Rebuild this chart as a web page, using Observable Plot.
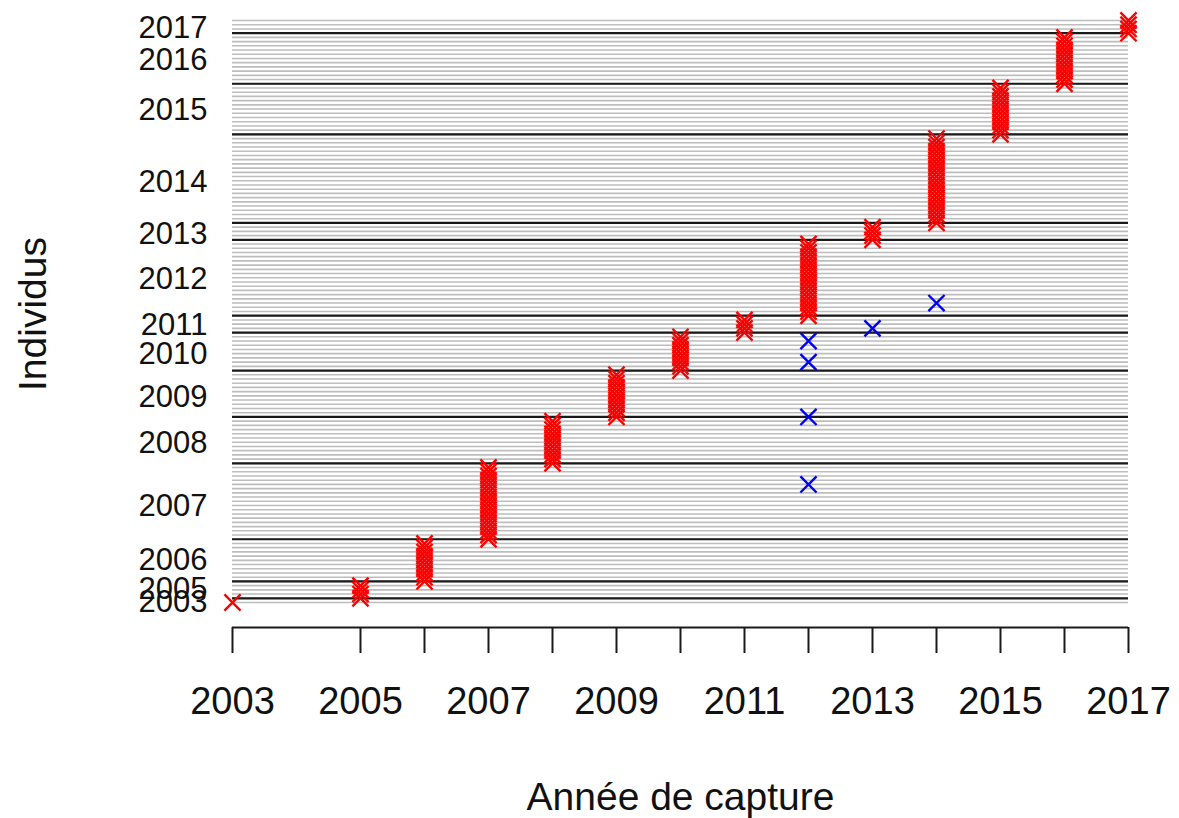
<!DOCTYPE html>
<html>
<head>
<meta charset="utf-8">
<script src="https://cdn.jsdelivr.net/npm/d3@7"></script>
<script src="https://cdn.jsdelivr.net/npm/@observablehq/plot@0.6"></script>
<style>
  html, body { margin: 0; padding: 0; background: #ffffff; }
  #chart svg { display: block; }
</style>
</head>
<body>
<div id="chart"></div>
<script>
// ---- data ----
const cohortYears  = [2003, 2005, 2006, 2007, 2008, 2009, 2010, 2011, 2012, 2013, 2014, 2015, 2016, 2017];
const cohortCounts = [1, 4, 10, 18, 11, 11, 9, 4, 18, 4, 21, 12, 12, 4];
const recapYears = [2012, 2012, 2012, 2012, 2013, 2014];
const recapRows  = [29, 45, 58, 63, 66, 72];
const xTickYears  = [2003, 2005, 2006, 2007, 2008, 2009, 2010, 2011, 2012, 2013, 2014, 2015, 2016, 2017];
const xLabelYears = [2003, 2005, 2007, 2009, 2011, 2013, 2015, 2017];
const yLabelYears = [2003, 2005, 2006, 2007, 2008, 2009, 2010, 2011, 2012, 2013, 2014, 2015, 2016, 2017];
const yLabelRows  = [1, 4.3, 11, 23.8, 38.9, 49.6, 59.8, 66.7, 77.8, 88.3, 100.8, 117.7, 129.5, 137.1];

// ---- tables built from the arrays ----
const captures = [];
const firstRows = [];
let r = 1;
cohortYears.forEach((yr, i) => {
  firstRows.push(r);
  for (let k = 0; k < cohortCounts[i]; k++) captures.push({year: yr, row: r + k});
  r += cohortCounts[i];
});
const nRows = r - 1;
const allRows = d3.range(1, nRows + 1);
const boundaryRows = firstRows.slice(1);
const recaps = recapYears.map((y, i) => ({year: y, row: recapRows[i]}));
const labelSet = new Set(xLabelYears);
const xMin = xTickYears[0], xMax = xTickYears[xTickYears.length - 1];

// ---- layout ----
const W = 1179, H = 818;
const mL = 232, mR = 51, mT = 0, mB = 191;
const frameBottom = H - mB;          // 627
const row1Px = 602, rowTopPx = 20;
const s = (row1Px - rowTopPx) / (nRows - 1);
const yLo = 1 - (frameBottom - row1Px) / s;
const yHi = nRows + (rowTopPx - mT) / s;

const font = "'Liberation Sans', Arial, Helvetica, sans-serif";

const chart = Plot.plot({
  width: W,
  height: H,
  marginLeft: mL,
  marginRight: mR,
  marginTop: mT,
  marginBottom: mB,
  style: {fontFamily: font, background: "#ffffff", color: "#000000", overflow: "visible"},
  x: {domain: [xMin, xMax], axis: null},
  y: {domain: [yLo, yHi], axis: null},
  marks: [
    Plot.ruleY(allRows, {y: d => d, x1: xMin, x2: xMax, stroke: "#bdbdbd", strokeWidth: 1.6}),
    Plot.ruleY(boundaryRows, {y: d => d, x1: xMin, x2: xMax, stroke: "#1a1a1a", strokeWidth: 2.2}),
    Plot.dot(captures, {x: "year", y: "row", symbol: "times", r: 7.4, stroke: "#ff0000", strokeWidth: 2.4}),
    Plot.dot(recaps, {x: "year", y: "row", symbol: "times", r: 7.4, stroke: "#0000ff", strokeWidth: 2.4}),
    Plot.ruleY([yLo], {y: d => d, x1: xMin, x2: xMax, stroke: "#1a1a1a", strokeWidth: 2}),
    Plot.axisX(xTickYears, {
      label: null,
      tickSize: 26, tickPadding: 34, strokeWidth: 2, stroke: "#1a1a1a",
      tickFormat: d => labelSet.has(d) ? String(d) : "",
      fontSize: 38, fill: "#111111"
    }),
    Plot.text(yLabelRows, {
      y: d => d, text: (d, i) => String(yLabelYears[i]),
      frameAnchor: "left", dx: -25, textAnchor: "end", fontSize: 31, fill: "#111111"
    }),
    Plot.text(["Individus"], {frameAnchor: "left", dx: -199, rotate: -90, textAnchor: "middle", fontSize: 39, fill: "#111111"}),
    Plot.text(["Année de capture"], {frameAnchor: "bottom", dy: 182, textAnchor: "middle", fontSize: 39, fill: "#111111"})
  ]
});
document.getElementById("chart").appendChild(chart);
</script>
</body>
</html>
